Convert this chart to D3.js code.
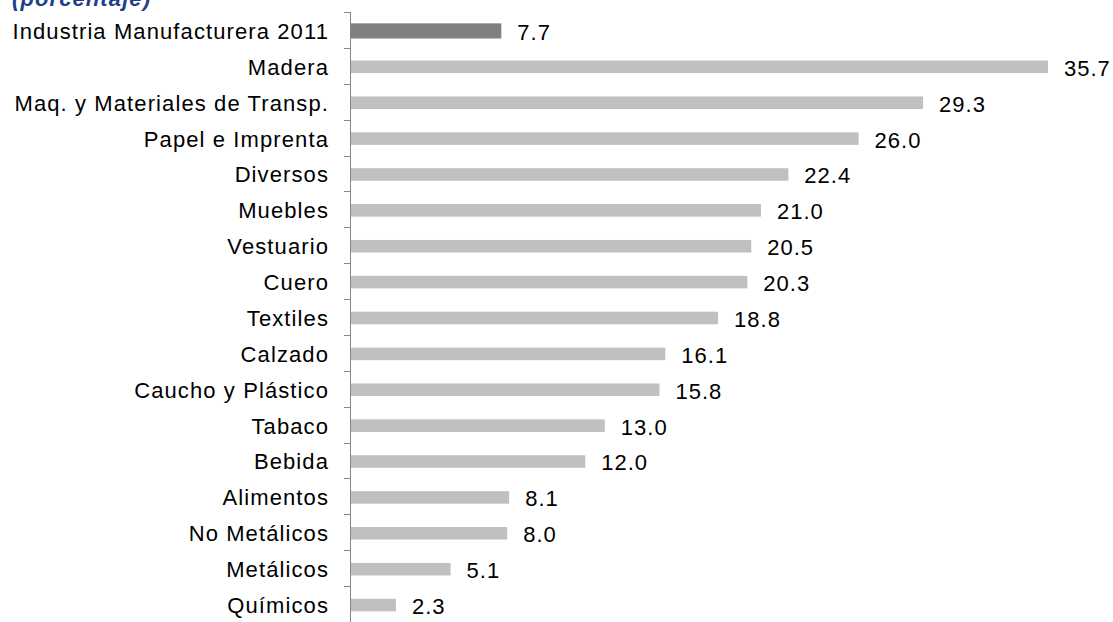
<!DOCTYPE html>
<html>
<head>
<meta charset="utf-8">
<script src="https://cdn.jsdelivr.net/npm/d3@7"></script>
<style>
  body { margin: 0; background: #fff; }
  svg { display: block; font-family: "Liberation Sans", Arial, sans-serif; }
</style>
</head>
<body>
<svg id="chart" width="1113" height="622"></svg>
<script>
const categories = [
    "Industria Manufacturera 2011", "Madera", "Maq. y Materiales de Transp.",
    "Papel e Imprenta", "Diversos", "Muebles", "Vestuario", "Cuero", "Textiles",
    "Calzado", "Caucho y Plástico", "Tabaco", "Bebida", "Alimentos",
    "No Metálicos", "Metálicos", "Químicos"
];
const values = [7.7, 35.7, 29.3, 26.0, 22.4, 21.0, 20.5, 20.3, 18.8, 16.1, 15.8, 13.0, 12.0, 8.1, 8.0, 5.1, 2.3];
const totalCategory = "Industria Manufacturera 2011";
const subtitle = "(porcentaje)";

const svg = d3.select("#chart");
const margin = {top: 13, left: 351, right: 65, bottom: -1};
const width = +svg.attr("width");
const height = +svg.attr("height");

const x = d3.scaleLinear()
    .domain([0, 35.7])
    .range([margin.left, width - margin.right]);

const y = d3.scaleBand()
    .domain(categories)
    .range([margin.top, height - margin.bottom])
    .paddingInner(0.65)
    .paddingOuter(0.325);

svg.append("text")
    .attr("x", 12)
    .attr("y", 6)
    .attr("fill", "#1f3f8a")
    .style("font-style", "italic")
    .style("font-weight", "bold")
    .style("font-size", "22px")
    .style("letter-spacing", "1.1px")
    .text(subtitle);

// axis line with ticks between categories
const axisG = svg.append("g");
axisG.append("line")
    .attr("x1", margin.left - 0.5).attr("x2", margin.left - 0.5)
    .attr("y1", margin.top - 1).attr("y2", height)
    .attr("stroke", "#868686");

const step = y.step();
const edges = d3.range(categories.length + 1)
    .map(i => y(categories[0]) - (step * y.paddingInner()) / 2 + i * step);
axisG.selectAll(".tick")
    .data(edges)
    .join("line")
        .attr("class", "tick")
        .attr("x1", margin.left - 7).attr("x2", margin.left)
        .attr("y1", d => Math.round(d) - 0.5).attr("y2", d => Math.round(d) - 0.5)
        .attr("stroke", "#868686");

svg.selectAll(".cat")
    .data(categories)
    .join("text")
        .attr("class", "cat")
        .attr("x", 329)
        .attr("y", d => y(d) + y.bandwidth() / 2)
        .attr("dy", "0.36em")
        .attr("text-anchor", "end")
        .style("font-size", "22px")
        .style("letter-spacing", "1.1px")
        .attr("fill", "#000")
        .text(d => d);

const grow = d => d === totalCategory ? 1.3 : 0;
svg.selectAll(".bar")
    .data(categories)
    .join("rect")
        .attr("class", "bar")
        .attr("x", x(0))
        .attr("y", d => y(d) - grow(d))
        .attr("width", (d, i) => x(values[i]) - x(0))
        .attr("height", d => y.bandwidth() + 2 * grow(d))
        .attr("fill", d => d === totalCategory ? "#808080" : "#c0c0c0");

svg.selectAll(".val")
    .data(categories)
    .join("text")
        .attr("class", "val")
        .attr("x", (d, i) => x(values[i]) + 16)
        .attr("y", d => y(d) + y.bandwidth() / 2 + 1)
        .attr("dy", "0.36em")
        .style("font-size", "22px")
        .style("letter-spacing", "1px")
        .attr("fill", "#000")
        .text((d, i) => values[i].toFixed(1));
</script>
</body>
</html>
